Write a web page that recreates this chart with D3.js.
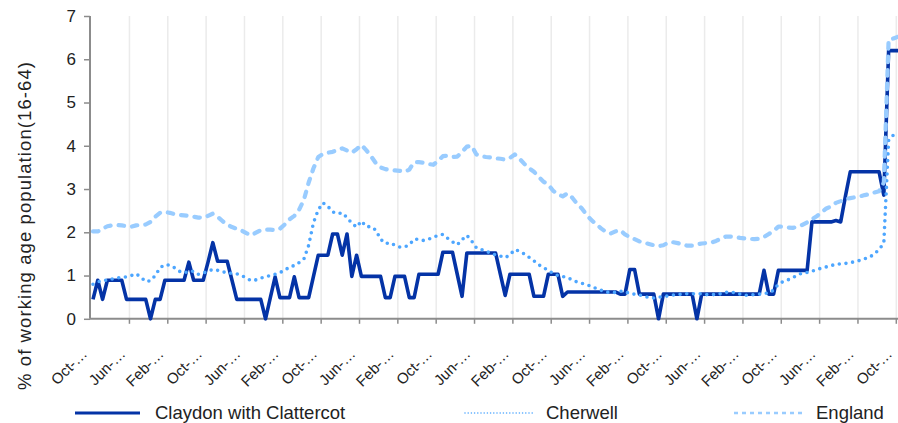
<!DOCTYPE html>
<html><head><meta charset="utf-8">
<script src="https://cdn.jsdelivr.net/npm/d3@7"></script>
<style>
body{margin:0;background:#fff}
svg{display:block;font-family:"Liberation Sans",Arial,sans-serif}
</style>
</head><body><svg id="c" width="898" height="423"></svg>
<script>
// ---------------- data ----------------
const seriesNames = ["Claydon with Clattercot", "Cherwell", "England"];
const xTickLabels = ["Oct-…","Jun-…","Feb-…","Oct-…","Jun-…","Feb-…","Oct-…","Jun-…","Feb-…","Oct-…","Jun-…",
                     "Feb-…","Oct-…","Jun-…","Feb-…","Oct-…","Jun-…","Feb-…","Oct-…","Jun-…","Feb-…","Oct-…"];
const labelStep = 8;           // one label every 8 monthly categories
const yTicks = [0,1,2,3,4,5,6,7];

const claydon = [
0.45,0.89,0.45,0.89,0.89,0.89,0.89,0.45,0.45,0.45,
0.45,0.45,0,0.45,0.45,0.89,0.89,0.89,0.89,0.89,
1.31,0.89,0.89,0.89,1.31,1.76,1.33,1.33,1.33,0.89,
0.45,0.45,0.45,0.45,0.45,0.45,0,0.49,0.97,0.49,
0.49,0.49,0.97,0.49,0.49,0.49,0.98,1.47,1.47,1.47,
1.96,1.96,1.47,1.96,0.98,1.47,0.98,0.98,0.98,0.98,
0.98,0.49,0.49,0.98,0.98,0.98,0.49,0.49,1.03,1.03,
1.03,1.03,1.03,1.54,1.54,1.54,1.03,0.52,1.52,1.52,
1.52,1.52,1.52,1.52,1.52,1.03,0.54,1.03,1.03,1.03,
1.03,1.03,0.52,0.52,0.52,1.03,1.03,1.03,0.52,0.62,
0.62,0.62,0.62,0.62,0.62,0.62,0.62,0.62,0.62,0.62,
0.57,0.57,1.14,1.14,0.57,0.57,0.57,0.57,0,0.57,
0.57,0.57,0.57,0.57,0.57,0.57,0,0.57,0.57,0.57,
0.57,0.57,0.57,0.57,0.57,0.57,0.57,0.57,0.57,0.57,
1.12,0.57,0.57,1.12,1.12,1.12,1.12,1.12,1.12,1.12,
2.24,2.24,2.24,2.24,2.24,2.27,2.24,2.84,3.40,3.40,
3.40,3.40,3.40,3.40,3.40,2.86,6.2,6.2,6.2
];

const cherwell = [
0.80,0.85,0.89,0.89,0.92,0.94,0.96,0.97,1.00,1.04,
0.96,0.86,0.88,1.00,1.18,1.25,1.24,1.18,1.10,1.06,
1.10,1.10,1.03,1.06,1.10,1.14,1.12,1.09,1.06,1.05,
1.04,1.00,0.94,0.88,0.90,0.94,0.97,1.00,1.03,1.07,
1.12,1.20,1.23,1.30,1.38,1.70,2.22,2.52,2.68,2.60,
2.47,2.43,2.45,2.34,2.21,2.12,2.26,2.13,2.13,2.05,
1.84,1.74,1.76,1.70,1.66,1.66,1.71,1.84,1.84,1.81,
1.84,1.88,1.93,1.95,1.86,1.78,1.71,1.83,1.93,1.80,
1.64,1.60,1.57,1.51,1.48,1.45,1.41,1.48,1.60,1.56,
1.50,1.42,1.34,1.25,1.18,1.12,1.05,1.00,0.98,0.95,
0.90,0.85,0.82,0.79,0.75,0.70,0.66,0.62,0.61,0.61,
0.64,0.63,0.58,0.57,0.55,0.52,0.49,0.48,0.50,0.51,
0.53,0.55,0.56,0.57,0.58,0.58,0.58,0.58,0.56,0.56,
0.56,0.58,0.61,0.62,0.60,0.57,0.54,0.55,0.56,0.57,
0.58,0.60,0.66,0.80,0.86,0.90,0.95,1.01,1.06,1.07,
1.10,1.14,1.17,1.20,1.23,1.26,1.27,1.28,1.30,1.32,
1.35,1.39,1.42,1.50,1.60,1.75,4.12,4.25,4.29
];

const england = [
2.02,2.02,2.08,2.14,2.16,2.17,2.16,2.14,2.13,2.16,
2.17,2.18,2.24,2.36,2.45,2.47,2.45,2.42,2.40,2.39,
2.38,2.36,2.34,2.34,2.38,2.43,2.36,2.26,2.18,2.12,
2.08,2.04,1.98,1.93,1.99,2.05,2.06,2.06,2.05,2.08,
2.18,2.30,2.38,2.52,2.75,3.15,3.48,3.74,3.81,3.84,
3.86,3.90,3.94,3.89,3.84,3.92,4.02,3.90,3.76,3.60,
3.50,3.46,3.44,3.43,3.42,3.40,3.45,3.62,3.62,3.61,
3.58,3.56,3.65,3.76,3.77,3.74,3.75,3.86,3.98,4.00,
3.80,3.76,3.74,3.73,3.71,3.70,3.68,3.72,3.80,3.70,
3.58,3.48,3.40,3.28,3.17,3.10,2.96,2.88,2.83,2.90,
2.80,2.66,2.55,2.40,2.28,2.19,2.09,2.01,1.97,2.02,
2.05,1.95,1.89,1.84,1.79,1.76,1.73,1.70,1.68,1.70,
1.76,1.77,1.75,1.72,1.69,1.69,1.72,1.74,1.75,1.76,
1.80,1.85,1.90,1.90,1.89,1.87,1.86,1.85,1.84,1.85,
1.89,1.96,2.03,2.13,2.13,2.11,2.10,2.13,2.17,2.23,
2.30,2.37,2.46,2.55,2.60,2.68,2.72,2.77,2.79,2.81,
2.83,2.86,2.88,2.92,2.95,3.15,6.45,6.48,6.52
];

// ---------------- chart ----------------
const colors = ["#0433a6", "#4da6ff", "#99ccff"];
const svg = d3.select("#c");
const n = claydon.length;
const plotTop = 16, plotBottom = 318.8, plotLeft = 90;

const x = d3.scaleLinear().domain([-0.5, n - 0.5]).range([90.6, 900.6]);
const y = d3.scaleLinear().domain([0, 7]).range([plotBottom, plotTop]);

// category boundaries every labelStep categories
const bounds = d3.range(1, xTickLabels.length).map(k => k * labelStep - 0.5);

// vertical gridlines
svg.append("g")
  .attr("transform", `translate(0,${plotBottom})`)
  .call(d3.axisBottom(x).tickValues(bounds).tickSize(-(plotBottom - plotTop)).tickFormat(""))
  .call(g => g.select(".domain").remove())
  .call(g => g.selectAll("line").attr("stroke", "#ebebeb").attr("stroke-width", 1.5));

// x axis
svg.append("g")
  .attr("transform", `translate(0,${plotBottom})`)
  .call(d3.axisBottom(x).tickValues(bounds).tickSize(5).tickFormat(""))
  .call(g => g.select(".domain").attr("d", `M${plotLeft},0H898`).attr("stroke", "#8c8c8c").attr("stroke-width", 2))
  .call(g => g.selectAll("line").attr("stroke", "#8c8c8c").attr("stroke-width", 1.5));

// x labels
svg.append("g").selectAll("text")
  .data(xTickLabels)
  .join("text")
  .attr("transform", (d, k) => `translate(${x(k * labelStep) - 5},355) rotate(-45)`)
  .attr("text-anchor", "end")
  .attr("font-size", 15)
  .attr("fill", "#222")
  .text(d => d);

// y axis
svg.append("g")
  .attr("transform", `translate(${plotLeft},0)`)
  .call(d3.axisLeft(y).tickValues(yTicks).tickSize(6).tickPadding(8).tickFormat(d3.format("d")))
  .call(g => g.select(".domain").attr("d", `M0,${plotTop}V${plotBottom}`).attr("stroke", "#8c8c8c").attr("stroke-width", 2))
  .call(g => g.selectAll("line").attr("stroke", "#8c8c8c").attr("stroke-width", 1.5))
  .call(g => g.selectAll("text").attr("font-size", 17).attr("fill", "#222").attr("font-family", "'Liberation Sans',Arial,sans-serif"));

// y title
svg.append("text")
  .attr("transform", "translate(31,226) rotate(-90)")
  .attr("text-anchor", "middle")
  .attr("font-size", 18.5)
  .attr("textLength", 328)
  .attr("lengthAdjust", "spacing")
  .attr("fill", "#222")
  .text("% of working age population(16-64)");

// lines
const line = d3.line().x((d, i) => x(i)).y(d => y(d));
const styles = [
  {w: 3.6, dash: null, cap: "butt"},
  {w: 3.6, dash: "0 6.7", cap: "round"},
  {w: 4.2, dash: "5.5 8", cap: "round"}
];
[claydon, cherwell, england].forEach((s, k) => {
  svg.append("path")
    .datum(s)
    .attr("d", line)
    .attr("fill", "none")
    .attr("stroke", colors[k])
    .attr("stroke-width", styles[k].w)
    .attr("stroke-linejoin", "round")
    .attr("stroke-linecap", styles[k].cap)
    .attr("stroke-dasharray", styles[k].dash);
});

// legend
const legendItems = [
  {x1: 75, x2: 140, tx: 155, w: 3, dash: null, cap: "butt"},
  {x1: 465, x2: 535, tx: 546, w: 1.6, dash: "0 3.2", cap: "round"},
  {x1: 734, x2: 802, tx: 816, w: 2.5, dash: "4 4", cap: "butt"}
];
const lg = svg.append("g");
legendItems.forEach((it, k) => {
  lg.append("line")
    .attr("x1", it.x1).attr("x2", it.x2).attr("y1", 413).attr("y2", 413)
    .attr("stroke", colors[k]).attr("stroke-width", it.w)
    .attr("stroke-linecap", it.cap)
    .attr("stroke-dasharray", it.dash);
  lg.append("text")
    .attr("x", it.tx).attr("y", 419)
    .attr("font-size", 18.5).attr("fill", "#222")
    .text(seriesNames[k]);
});
</script>
</body></html>
